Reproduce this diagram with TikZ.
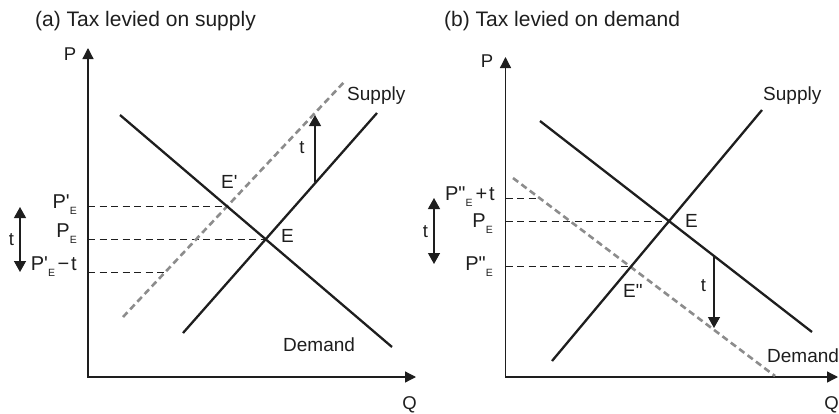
\documentclass[tikz,border=0pt]{standalone}
\usepackage{fontspec}
\setmainfont{Liberation Sans}
\newfontfamily\labfont{Liberation Sans}
\usetikzlibrary{arrows.meta}
\definecolor{shgray}{RGB}{140,140,140}
\definecolor{ink}{RGB}{30,30,30}
\newcommand\lowsub[1]{\raisebox{-6pt}{\fontsize{10.5}{11}\selectfont #1}}
\tikzset{
  axisline/.style={line width=1.3pt, draw=ink, {Triangle[length=11pt,width=11pt]}-{Triangle[length=11pt,width=11pt]}},
  curve/.style={line width=2.3pt, draw=ink},
  shifted/.style={line width=2.6pt, draw=shgray, dash pattern=on 6.5pt off 4pt},
  guide/.style={line width=1pt, draw=ink, dash pattern=on 7pt off 4.5pt},
  taxarrow/.style={line width=1.3pt, draw=ink, -{Triangle[length=11pt,width=12pt]}},
  dblarrow/.style={line width=1.3pt, draw=ink, {Triangle[length=11pt,width=12pt]}-{Triangle[length=11pt,width=12pt]}},
  titletext/.style={font=\labfont\fontsize{21}{25}\selectfont, text=ink, anchor=base west, inner sep=0pt},
  lab/.style={font=\labfont\fontsize{19}{23}\selectfont, text=ink, anchor=base west, inner sep=0pt},
  axlab/.style={font=\labfont\fontsize{18.5}{22}\selectfont, text=ink, anchor=base, inner sep=0pt},
  plab/.style={font=\labfont\fontsize{20}{24}\selectfont, text=ink, anchor=base east, inner sep=0pt},
}
\begin{document}
\begin{tikzpicture}[x=1pt,y=-1pt]
\useasboundingbox (0,0) rectangle (839,413);

% ---------------- panel (a) ----------------
\node[titletext] (ta) at (35,26.5) {(a) Tax levied on supply};
\coordinate (Oa) at (88,377);
\coordinate (YAtip) at (88,48);
\coordinate (XAtip) at (416,377);
\draw[axisline] (YAtip) |- (XAtip);
\node[axlab] (Pa) at (70,60) {P};
\node[axlab] (Qa) at (409.5,409) {Q};

\coordinate (Da1) at (120,115);
\coordinate (Da2) at (392,347);
\coordinate (Sa1) at (183,333);
\coordinate (Sa2) at (377,113);
\coordinate (SSa1) at (123,317);
\coordinate (SSa2) at (346,80);
\coordinate (Ea) at (intersection of Da1--Da2 and Sa1--Sa2);
\coordinate (Epa) at (intersection of Da1--Da2 and SSa1--SSa2);
\coordinate (PTa) at (165,272);

\draw[guide] (Epa -| Oa) -- (Epa);
\draw[guide] (Ea -| Oa) -- (Ea);
\draw[guide] (PTa -| Oa) -- (PTa);

\draw[shifted] (SSa1) -- (SSa2);
\draw[curve] (Da1) -- (Da2);
\draw[curve] (Sa1) -- (Sa2);

\coordinate (tA1) at (315,182);
\coordinate (tA2) at (315,115);
\draw[taxarrow] (tA1) -- (tA2);
\node[axlab] (tAl) at (302,153) {t};

\node[lab] (SupA) at (347,100.5) {Supply};
\node[lab] (DemA) at (283,351) {Demand};
\node[lab] (EA) at (281,242) {E};
\node[lab] (EpA) at (221,188) {E'};

\node[plab] (lPpE) at (77,208) {P'\lowsub{E}};
\node[plab] (lPE) at (77,237) {P\lowsub{E}};
\node[plab] (lPpEt) at (77,270) {P'\lowsub{E}\hspace{2.5pt}−\hspace{2pt}t};
\coordinate (dA1) at (20,207);
\coordinate (dA2) at (20,272);
\draw[dblarrow] (dA1) -- (dA2);
\node[axlab] (tAleft) at (11.5,245) {t};

% ---------------- panel (b) ----------------
\node[titletext] (tb) at (444,26.5) {(b) Tax levied on demand};
\coordinate (Ob) at (505.5,377);
\coordinate (YBtip) at (505.5,57);
\coordinate (XBtip) at (838,377);
\draw[axisline] (YBtip) |- (XBtip);
\node[axlab] (Pb) at (487,67) {P};
\node[axlab] (Qb) at (831.5,409) {Q};

\coordinate (Db1) at (540,121);
\coordinate (Db2) at (812,332);
\coordinate (Sb1) at (552,361);
\coordinate (Sb2) at (762,110);
\coordinate (DDb1) at (513,178);
\coordinate (DDb2) at (775,376);
\coordinate (Eb) at (intersection of Db1--Db2 and Sb1--Sb2);
\coordinate (Eppb) at (intersection of DDb1--DDb2 and Sb1--Sb2);
\coordinate (PTb) at (539,198);

\draw[guide] (PTb -| Ob) -- (PTb);
\draw[guide] (Eb -| Ob) -- (Eb);
\draw[guide] (Eppb -| Ob) -- (Eppb);

\draw[shifted] (DDb1) -- (DDb2);
\draw[curve] (Db1) -- (Db2);
\draw[curve] (Sb1) -- (Sb2);

\coordinate (tB1) at (714,257);
\coordinate (tB2) at (714,328);
\draw[taxarrow] (tB1) -- (tB2);
\node[axlab] (tBl) at (703.5,291) {t};

\node[lab] (SupB) at (763,100) {Supply};
\node[lab] (DemB) at (767,362) {Demand};
\node[lab] (EB) at (685,227) {E};
\node[lab] (EppB) at (623,297) {E"};

\node[plab] (lPppEt) at (495,200) {P"\lowsub{E}\hspace{3pt}+\hspace{2pt}t};
\node[plab] (lPEb) at (493,227) {P\lowsub{E}};
\node[plab] (lPppE) at (493,270) {P"\lowsub{E}};
\coordinate (dB1) at (434,198);
\coordinate (dB2) at (434,264);
\draw[dblarrow] (dB1) -- (dB2);
\node[axlab] (tBleft) at (425.5,237) {t};
\end{tikzpicture}
\end{document}
